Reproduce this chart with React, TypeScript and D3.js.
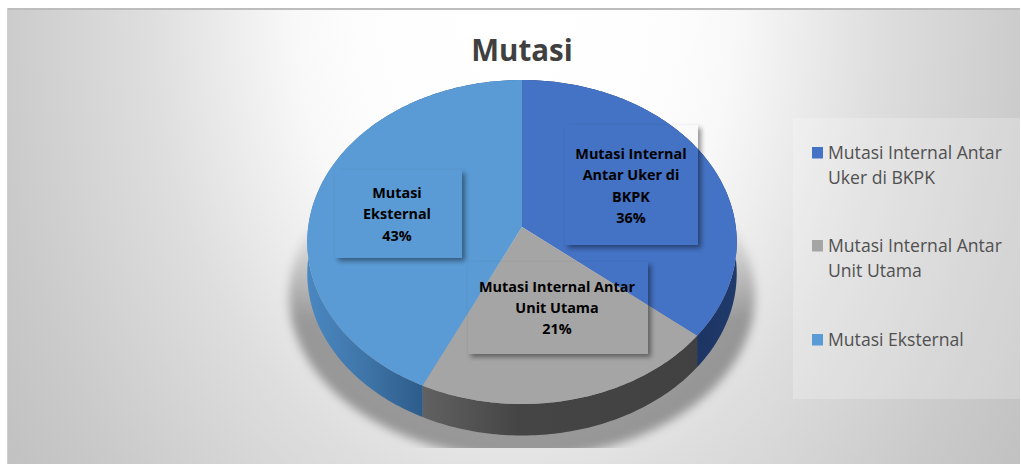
import * as d3 from 'd3';

const title = 'Mutasi';
const categories = ['Mutasi Internal Antar Uker di BKPK', 'Mutasi Internal Antar Unit Utama', 'Mutasi Eksternal'];
const values = [36, 21, 43];
const sliceColors = ['#4472c4', '#a5a5a5', '#5b9bd5'];
const labelLines = [
  ['Mutasi Internal', 'Antar Uker di', 'BKPK', '36%'],
  ['Mutasi Internal Antar', 'Unit Utama', '21%'],
  ['Mutasi', 'Eksternal', '43%'],
];
const legendLines = [
  ['Mutasi Internal Antar', 'Uker di BKPK'],
  ['Mutasi Internal Antar', 'Unit Utama'],
  ['Mutasi Eksternal'],
];

const width = 1021;
const height = 465;
const cx = 522;
const cy = 227;
const depth = 31.5;
const font = '"Open Sans", sans-serif';

// label boxes
const boxes = [
  { x: 565, y: 125, w: 133, h: 120, cx: 631, first: 159 },
  { x: 468, y: 262, w: 180, h: 92, cx: 557, first: 291.5 },
  { x: 335, y: 170, w: 127, h: 88, cx: 397, first: 198 },
];
const legendY = [159, 252, 346];

// the pie is tilted in perspective, so the centre sits above the ellipse centre
const project = (angle: number): [number, number] => {
  const u = Math.sin(angle);
  const v = -Math.cos(angle);
  const w = 1 - 0.0926 * v;
  return [cx + (213.8 * u) / w, (139.6 * v + cy) / w];
};

const arcPoints = (a0: number, a1: number) => {
  const n = Math.max(2, Math.ceil((a1 - a0) * 60));
  return d3.range(n + 1).map((i) => project(a0 + ((a1 - a0) * i) / n));
};

const line = d3.line();
const arcs = d3.pie<number>().sort(null)(values);

const topPath = (a: d3.PieArcDatum<number>) =>
  line([[cx, cy], ...arcPoints(a.startAngle, a.endAngle)]) + 'Z';

const wallPath = (a: d3.PieArcDatum<number>) => {
  const pts = arcPoints(a.startAngle, a.endAngle);
  const low = pts.map(([x, y]) => [x, y + depth] as [number, number]).reverse();
  return line([...pts, ...low]) + 'Z';
};

const wallStops = [
  [['#1c3461', 0], ['#1f3a6c', 1]],
  [['#626262', 0], ['#454545', 0.35], ['#414141', 1]],
  [['#4a88c2', 0], ['#3f75a8', 0.5], ['#2c5b89', 1]],
];
const wallX = [
  [690, 740],
  [420, 700],
  [305, 425],
];

const App = () => (
  <svg width={width} height={height} style={{ position: 'absolute', left: 0, top: 0 }}>
    <defs>
      <radialGradient id="bg" gradientUnits="userSpaceOnUse" cx={0} cy={0} r={1} gradientTransform="translate(515,10) scale(600,805)">
        <stop offset="0" stopColor="#ffffff" />
        <stop offset="0.26" stopColor="#fdfdfd" />
        <stop offset="0.37" stopColor="#f8f8f8" />
        <stop offset="0.61" stopColor="#dedede" />
        <stop offset="0.87" stopColor="#cacaca" />
        <stop offset="1" stopColor="#c2c2c2" />
      </radialGradient>
      <linearGradient id="shadowFade" gradientUnits="userSpaceOnUse" x1={0} x2={0} y1={225} y2={320}>
        <stop offset="0" stopColor="#000" stopOpacity={0.03} />
        <stop offset="1" stopColor="#000" stopOpacity={0.34} />
      </linearGradient>
      <filter id="soft" x="-20%" y="-20%" width="140%" height="140%">
        <feGaussianBlur stdDeviation="5" />
      </filter>
      <filter id="boxBlur" x="-20%" y="-20%" width="140%" height="140%">
        <feGaussianBlur stdDeviation="2.5" />
      </filter>
      <clipPath id="shadowClip">
        <rect x={270} y={225} width={500} height={223} />
      </clipPath>
      {wallStops.map((stops, i) => (
        <linearGradient key={i} id={`wall${i}`} gradientUnits="userSpaceOnUse" x1={wallX[i][0]} x2={wallX[i][1]} y1={0} y2={0}>
          {stops.map(([c, o]) => (
            <stop key={String(o)} offset={o as number} stopColor={c as string} />
          ))}
        </linearGradient>
      ))}
      {boxes.map((b, i) => (
        <clipPath key={i} id={`outside${i}`}>
          <path clipRule="evenodd" d={`M0 0H${width}V${height}H0Z M${b.x} ${b.y}h${b.w}v${b.h}h${-b.w}Z`} />
        </clipPath>
      ))}
    </defs>

    <rect x={7} y={8} width={1013} height={456} fill="url(#bg)" />
    <rect x={7} y={8} width={1013} height={2} fill="#bdbdbd" />
    <rect x={7} y={8} width={1} height={456} fill="#cfcfcf" />

    <text x={cx} y={61} textAnchor="middle" fontFamily={font} fontWeight={700} fontSize={29.5} fill="#404040">
      {title}
    </text>

    <g clipPath="url(#shadowClip)">
      <ellipse cx={cx} cy={296} rx={233} ry={162} fill="url(#shadowFade)" filter="url(#soft)" />
    </g>

    {arcs.map((a, i) => (
      <path key={i} d={wallPath(a)} fill={`url(#wall${i})`} />
    ))}
    {arcs.map((a, i) => (
      <path key={i} d={topPath(a)} fill={sliceColors[i]} />
    ))}

    {boxes.map((b, i) => (
      <g key={i}>
        <g clipPath={`url(#outside${i})`}>
          <rect x={b.x + 3} y={b.y + 3} width={b.w} height={b.h} fill="#000" opacity={0.42} filter="url(#boxBlur)" />
        </g>
        <text textAnchor="middle" fontFamily={font} fontWeight={700} fontSize={14.4} fill="#000">
          {labelLines[i].map((t, j) => (
            <tspan key={j} x={b.cx} y={b.first + j * 21.3}>
              {t}
            </tspan>
          ))}
        </text>
      </g>
    ))}

    <rect x={793} y={118} width={227} height={281} fill="#fff" opacity={0.22} />
    {categories.map((c, i) => (
      <g key={c}>
        <rect x={812} y={legendY[i] - 12} width={11} height={11.5} fill={sliceColors[i]} />
        <text fontFamily={font} fontSize={17.6} fill="#505050">
          {legendLines[i].map((t, j) => (
            <tspan key={j} x={828} y={legendY[i] + j * 25}>
              {t}
            </tspan>
          ))}
        </text>
      </g>
    ))}
  </svg>
);

export default App;
